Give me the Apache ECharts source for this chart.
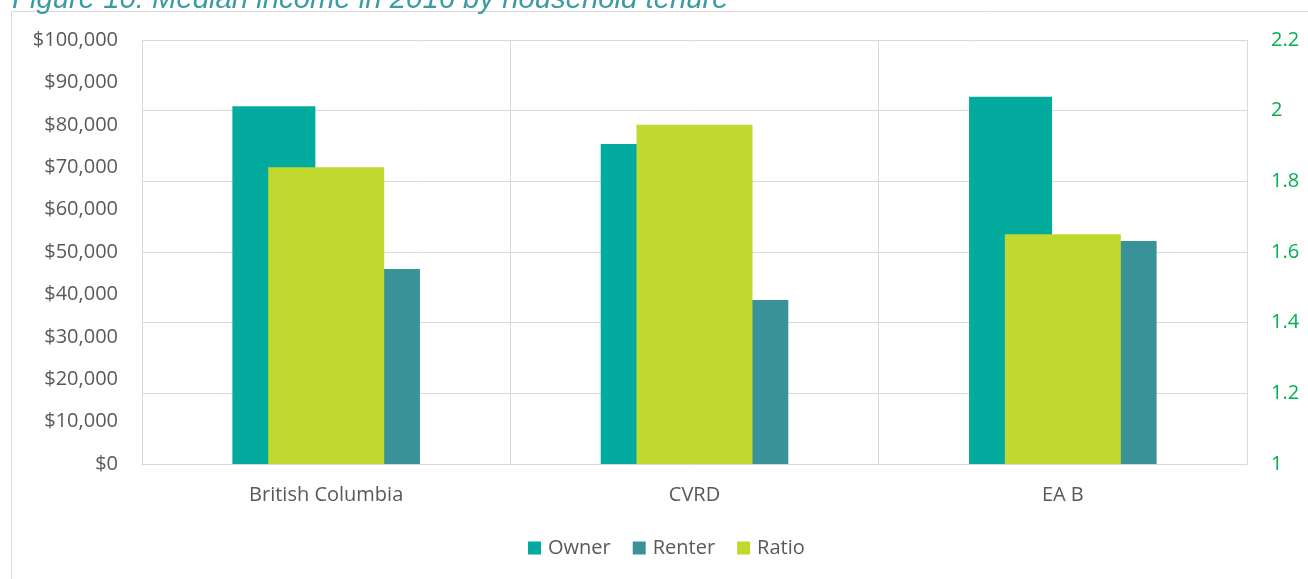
<!DOCTYPE html>
<html>
<head>
<meta charset="utf-8">
<script src="https://cdn.jsdelivr.net/npm/echarts@6/dist/echarts.min.js"></script>
<style>
  html, body { margin: 0; padding: 0; background: #fff; }
  #chart { width: 1308px; height: 579px; }
</style>
</head>
<body>
<div id="chart"></div>
<script>
  // data
  const categories = ['British Columbia', 'CVRD', 'EA B'];
  const ownerIncome = [84400, 75500, 86600];
  const renterIncome = [46000, 38700, 52600];
  const ratio = [1.84, 1.96, 1.65];

  const chart = echarts.init(document.getElementById('chart'));
  const labelFont = '"Open Sans", "Noto Sans", sans-serif';

  chart.setOption({
    animation: false,
    color: ['#02ab9e', '#3a9299', '#c1d82f'],
    graphic: [
      // outer chart frame (only left and top edges visible)
      {
        type: 'rect',
        shape: { x: 11.5, y: 11.5, width: 1400, height: 700 },
        style: { fill: 'none', stroke: '#d9d9d9', lineWidth: 1 },
        silent: true
      },
      {
        type: 'text',
        left: 12,
        top: -15,
        style: {
          text: 'Figure 10: Median income in 2016 by household tenure',
          font: 'italic 29.3px "Liberation Sans", Arial, sans-serif',
          fill: '#3a9ba2'
        }
      }
    ],
    grid: { left: 142, right: 61, top: 40, bottom: 115 },
    legend: {
      bottom: 16,
      left: 523,
      icon: 'rect',
      itemWidth: 13,
      itemHeight: 13,
      itemGap: 22,
      textStyle: { color: '#595959', fontSize: 20, fontFamily: labelFont, padding: [0, 0, 0, 2] },
      data: ['Owner', 'Renter', 'Ratio']
    },
    xAxis: [
      {
        type: 'category',
        data: categories,
        axisTick: { show: false },
        axisLine: { lineStyle: { color: '#d9d9d9', width: 1 } },
        axisLabel: { color: '#595959', fontSize: 20, fontFamily: labelFont, margin: 21 },
        splitLine: { show: true, interval: 0, lineStyle: { color: '#d9d9d9', width: 1 } }
      },
      {
        type: 'category',
        data: categories,
        show: false
      }
    ],
    yAxis: [
      {
        type: 'value',
        min: 0,
        max: 100000,
        interval: 10000,
        axisLine: { show: false },
        axisTick: { show: false },
        splitLine: { show: false },
        axisLabel: {
          color: '#595959',
          fontSize: 20,
          fontFamily: labelFont,
          margin: 24,
          formatter: v => '$' + v.toLocaleString('en-US')
        }
      },
      {
        type: 'value',
        min: 1,
        max: 2.2,
        interval: 0.2,
        position: 'right',
        axisLine: { show: false },
        axisTick: { show: false },
        splitLine: { show: true, lineStyle: { color: '#d9d9d9', width: 1 } },
        axisLabel: {
          color: '#00b050',
          fontSize: 20,
          fontFamily: labelFont,
          margin: 24,
          formatter: v => String(Math.round(v * 10) / 10)
        }
      }
    ],
    series: [
      {
        name: 'Owner',
        type: 'bar',
        xAxisIndex: 0,
        yAxisIndex: 0,
        barWidth: 83,
        barGap: '26%',
        data: ownerIncome
      },
      {
        name: 'Renter',
        type: 'bar',
        xAxisIndex: 0,
        yAxisIndex: 0,
        barWidth: 83,
        barGap: '26%',
        data: renterIncome
      },
      {
        name: 'Ratio',
        type: 'bar',
        xAxisIndex: 1,
        yAxisIndex: 1,
        barWidth: 116,
        data: ratio
      }
    ]
  });
</script>
</body>
</html>
